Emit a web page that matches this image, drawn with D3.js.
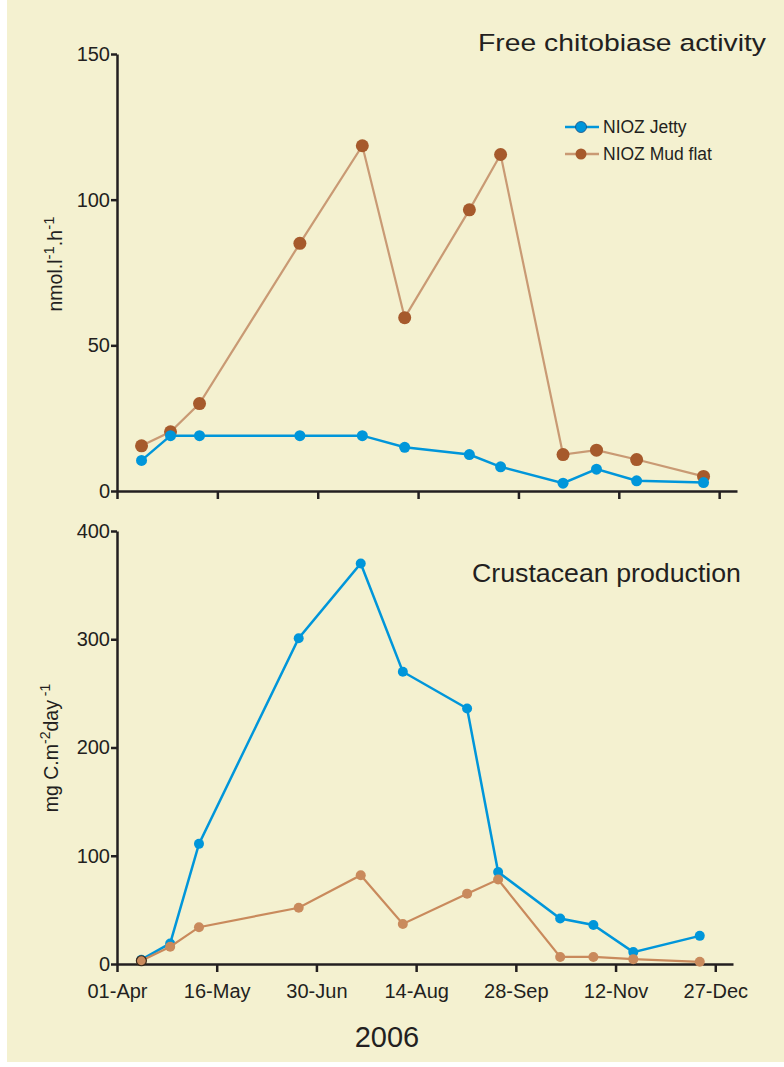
<!DOCTYPE html>
<html>
<head>
<meta charset="utf-8">
<script src="https://cdn.jsdelivr.net/npm/d3@7"></script>
<style>
  body { margin: 0; background: #ffffff; }
  svg { display: block; font-family: "Liberation Sans", Arial, sans-serif; }
  .axis path, .axis line { stroke: #231f20; stroke-width: 2.5; }
  .axis text { fill: #231f20; font-size: 20px; font-family: "Liberation Sans", Arial, sans-serif; }
</style>
</head>
<body>
<svg id="chart" width="784" height="1067"></svg>
<script>
// sampling dates (2006)
let sampleDates = ["2006-04-12", "2006-04-25", "2006-05-08", "2006-06-22", "2006-07-20", "2006-08-08",
                   "2006-09-06", "2006-09-20", "2006-10-18", "2006-11-02", "2006-11-20", "2006-12-20"];

// free chitobiase activity, nmol l-1 h-1
let chitoJetty = [10.5, 19, 19, 19, 19, 15, 12.5, 8.3, 2.7, 7.5, 3.5, 2.9];
let chitoMud   = [15.5, 20.3, 30, 85, 118.5, 59.5, 96.5, 115.5, 12.5, 14, 10.8, 5];

// crustacean production, mg C m-2 day-1
let crustJetty = [4, 19, 111, 301, 370, 270, 236, 85, 42, 36, 11, 26];
let crustMud   = [3, 16, 34, 52, 82, 37, 65, 78, 6.5, 6.5, 4.5, 2];

let xTickLabels = ["01-Apr", "16-May", "30-Jun", "14-Aug", "28-Sep", "12-Nov", "27-Dec"];
let seriesNames = ["NIOZ Jetty", "NIOZ Mud flat"];

let parseDate = d3.timeParse("%Y-%m-%d");
let parseTick = d3.timeParse("%d-%b-%Y");
let dates = sampleDates.map(parseDate);
let tickDates = xTickLabels.map(t => parseTick(t + "-2006"));

let svg = d3.select("#chart");

svg.append("rect")
    .attr("x", 7).attr("y", 0)
    .attr("width", 777).attr("height", 1062)
    .attr("fill", "#f4f1d0");

let blue = "#0096da";
let darkBrown = "#a65a2c";

function drawPanel(opts){
    let x = d3.scaleTime()
        .domain([parseDate("2006-04-01"), parseDate("2007-01-04")])
        .range(opts.xRange);
    let y = d3.scaleLinear()
        .domain(opts.yDomain)
        .range(opts.yRange);

    let g = svg.append("g");

    let xAxis = d3.axisBottom(x)
        .tickValues(tickDates)
        .tickSize(8)
        .tickSizeOuter(0)
        .tickPadding(12)
        .tickFormat(d3.timeFormat("%d-%b"));

    let gx = g.append("g")
        .attr("class", "axis")
        .attr("transform", `translate(0, ${opts.yRange[0]})`)
        .call(xAxis);
    if(!opts.showXLabels) gx.selectAll("text").remove();

    g.append("g")
        .attr("class", "axis")
        .attr("transform", `translate(${opts.xRange[0]}, 0)`)
        .call(d3.axisLeft(y).tickValues(opts.yTicks).tickSize(6).tickSizeOuter(0).tickPadding(1));

    let line = d3.line()
        .x((d, i) => x(dates[i]))
        .y(d => y(d));

    opts.series.forEach(s => {
        g.append("path")
            .datum(s.values)
            .attr("fill", "none")
            .attr("stroke", s.lineColor)
            .attr("stroke-width", s.lineWidth)
            .attr("d", line);

        g.selectAll(null)
            .data(s.values)
            .join("circle")
            .attr("cx", (d, i) => x(dates[i]))
            .attr("cy", d => y(d))
            .attr("r", s.r)
            .attr("fill", s.dotColor)
            .attr("stroke", (d, i) => (s.firstOutline && i == 0) ? "#3a2a1a" : "none")
            .attr("stroke-width", 1.2);
    });

    // title, glyphs a bit wider than Liberation Sans in the original
    g.append("text")
        .attr("x", opts.title.x)
        .attr("y", opts.title.y)
        .attr("text-anchor", "end")
        .attr("font-size", opts.title.size)
        .attr("textLength", opts.title.len)
        .attr("lengthAdjust", "spacingAndGlyphs")
        .attr("fill", "#231f20")
        .text(opts.title.text);

    return {x: x, y: y, g: g};
}

let topPanel = drawPanel({
    xRange: [117, 737],
    yRange: [491, 54],
    yDomain: [0, 150],
    yTicks: [0, 50, 100, 150],
    showXLabels: false,
    title: {text: "Free chitobiase activity", x: 766, y: 51, size: 24.5, len: 288},
    series: [
        {values: chitoMud, lineColor: "#c99a74", lineWidth: 2.2, dotColor: darkBrown, r: 6.5},
        {values: chitoJetty, lineColor: blue, lineWidth: 2.5, dotColor: blue, r: 5.5}
    ]
});

let bottomPanel = drawPanel({
    xRange: [117, 733],
    yRange: [964, 531],
    yDomain: [0, 400],
    yTicks: [0, 100, 200, 300, 400],
    showXLabels: true,
    title: {text: "Crustacean production", x: 741, y: 582, size: 25, len: 269},
    series: [
        {values: crustJetty, lineColor: blue, lineWidth: 2.5, dotColor: blue, r: 5},
        {values: crustMud, lineColor: "#c98a5c", lineWidth: 2.2, dotColor: "#c98a5c", r: 5, firstOutline: true}
    ]
});

// legend
let legend = svg.append("g").attr("transform", "translate(565, 127)");
let legendColors = [{line: blue, dot: blue}, {line: "#c99a74", dot: darkBrown}];
seriesNames.forEach((name, i) => {
    let row = legend.append("g").attr("transform", `translate(0, ${i * 27})`);
    row.append("line")
        .attr("x1", 0).attr("x2", 34)
        .attr("stroke", legendColors[i].line)
        .attr("stroke-width", 2.5);
    row.append("circle")
        .attr("cx", 16).attr("r", 5.5)
        .attr("fill", legendColors[i].dot)
        .attr("stroke", i == 0 ? "#1a4f80" : "none")
        .attr("stroke-width", 0.8);
    row.append("text")
        .attr("x", 38).attr("y", 6)
        .attr("font-size", 17.5)
        .attr("fill", "#231f20")
        .text(name);
});

// y axis titles
let yTitle1 = svg.append("text")
    .attr("transform", "translate(62, 264) rotate(-90)")
    .attr("text-anchor", "middle")
    .attr("font-size", 19.5)
    .attr("fill", "#231f20");
yTitle1.append("tspan").text("nmol.l");
yTitle1.append("tspan").attr("baseline-shift", "super").attr("font-size", 15).text("-1");
yTitle1.append("tspan").text(".h");
yTitle1.append("tspan").attr("baseline-shift", "super").attr("font-size", 15).text("-1");

let yTitle2 = svg.append("text")
    .attr("transform", "translate(58, 748) rotate(-90)")
    .attr("text-anchor", "middle")
    .attr("font-size", 19.5)
    .attr("fill", "#231f20");
yTitle2.append("tspan").text("mg C.m");
yTitle2.append("tspan").attr("baseline-shift", "super").attr("font-size", 14).text("-2");
yTitle2.append("tspan").text("day");
yTitle2.append("tspan").attr("baseline-shift", "super").attr("font-size", 14).text(" -1");

// year label
svg.append("text")
    .attr("x", 387)
    .attr("y", 1047)
    .attr("text-anchor", "middle")
    .attr("font-size", 29)
    .attr("fill", "#231f20")
    .text("2006");
</script>
</body>
</html>
